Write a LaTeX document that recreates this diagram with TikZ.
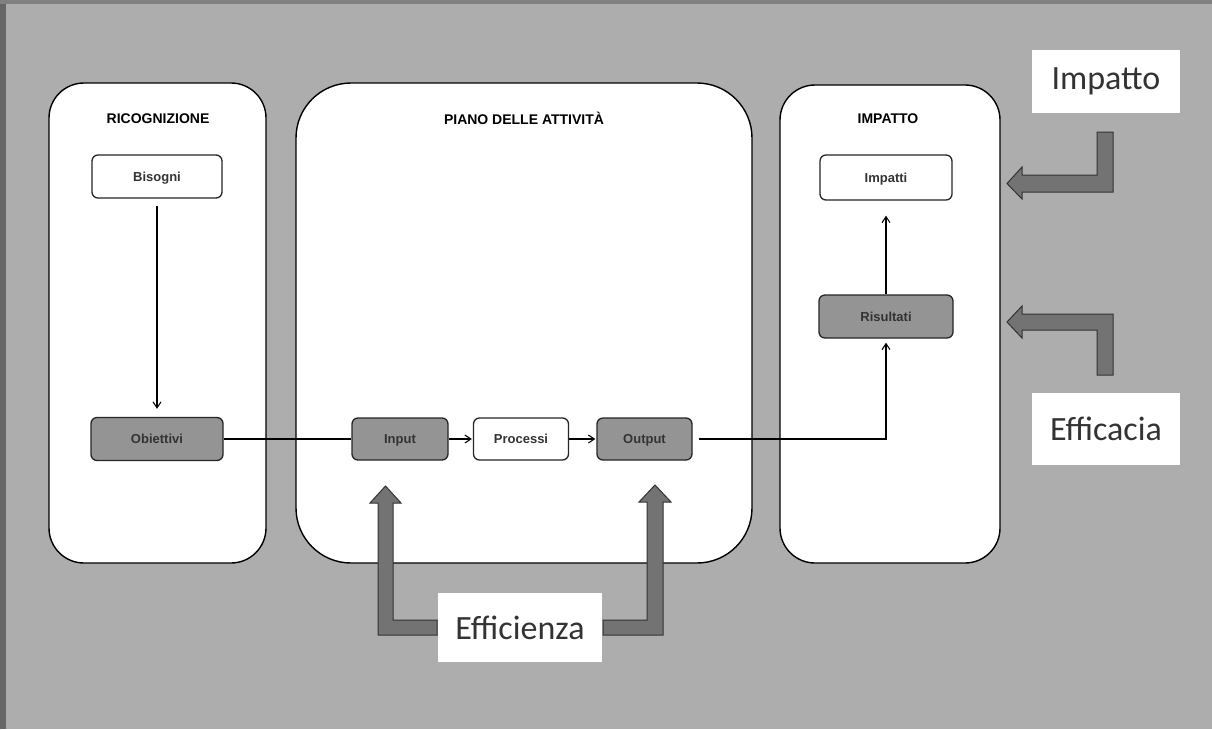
\documentclass[tikz,border=0pt]{standalone}
\usepackage{fontspec}
\setmainfont{Liberation Sans}
\newfontfamily\calib{Carlito}
\usetikzlibrary{arrows.meta}
\definecolor{bggray}{gray}{0.68}
\definecolor{boxgray}{gray}{0.58}
\definecolor{blockgray}{gray}{0.45}
\begin{document}
\begin{tikzpicture}[x=1pt,y=-1pt,
  panel/.style={draw=black,line width=1.4pt,fill=white},
  ptitle/.style={font=\fontsize{14}{16}\selectfont\bfseries,inner sep=0pt},
  wbox/.style={draw=black!85,line width=1.3pt,fill=white,rounded corners=6pt,inner sep=0pt,
     text height=9.5pt,text depth=0pt,
     font=\fontsize{13}{15}\selectfont\bfseries,text=black!80},
  gbox/.style={wbox,fill=boxgray},
  conn/.style={draw=black,line width=1.1pt},
  arr/.style={conn,-{Straight Barb[length=6pt,width=8pt,line width=1.1pt]}},
  block/.style={fill=blockgray,draw=black!80,line width=1pt},
  biglabel/.style={fill=white,inner sep=0pt,font=\calib\fontsize{34}{40}\selectfont,text=black!80}
]
% background
\fill[bggray] (0,0) rectangle (1212,729);
\useasboundingbox (0,0) rectangle (1212,729);
\fill[black!60] (0,0) rectangle (6,729);
\fill[black!50] (0,0) rectangle (1212,4);

% panels
\draw[panel,rounded corners=35pt] (49,83) rectangle (266,563);
\draw[panel,rounded corners=55pt] (296,83) rectangle (752,563);
\draw[panel,rounded corners=35pt] (780,85) rectangle (1000,563);

% titles
\node[ptitle] (t1) at (158,118.5) {RICOGNIZIONE};
\node[ptitle] (t2) at (524,118.5) {PIANO DELLE ATTIVITÀ};
\node[ptitle] (t3) at (888,119) {IMPATTO};

% boxes
\node[wbox,minimum width=130pt,minimum height=43pt] (bis) at (157,176.5) {Bisogni};
\node[gbox,minimum width=132pt,minimum height=43pt] (obi) at (157,439) {Obiettivi};
\node[gbox,minimum width=96pt,minimum height=42pt] (inp) at (400,439) {Input};
\node[wbox,minimum width=95pt,minimum height=42pt] (pro) at (521,439) {Processi};
\node[gbox,minimum width=95pt,minimum height=42pt] (out) at (644.5,439) {Output};
\node[wbox,minimum width=132pt,minimum height=45pt] (imp) at (886,177.5) {Impatti};
\node[gbox,minimum width=134pt,minimum height=43pt] (ris) at (886,316.5) {Risultati};

% connectors
\draw[arr,shorten <=7pt,shorten >=8pt] (bis.south) -- (obi.north);
\draw[conn] (obi.east) -- (inp.west);
\draw[arr,shorten >=1pt] (inp.east) -- (pro.west);
\draw[arr,shorten >=1pt] (pro.east) -- (out.west);
\draw[arr,shorten <=6pt,shorten >=4pt] (out.east) -| (ris.south);
\draw[arr,shorten >=15pt] (ris.north) -- (imp.south);

% big labels
\node[biglabel,minimum width=148pt,minimum height=63pt] (limp) at (1106,81.5) {Impatto};
\node[biglabel,minimum width=148pt,minimum height=72pt] (leff) at (1106,429) {Efficacia};
\node[biglabel,minimum width=164pt,minimum height=69pt] (lefz) at (520,627.5) {Efficienza};

% block arrows
\draw[block] (1113,132) -- (1113,192) -- (1022,192) -- (1022,199) -- (1007,183.5) -- (1022,167) -- (1022,175) -- (1097,175) -- (1097,132) -- cycle;
\draw[block] (1113,375) -- (1113,314) -- (1022,314) -- (1022,306) -- (1007,322) -- (1022,338) -- (1022,330) -- (1097,330) -- (1097,375) -- cycle;
\draw[block] (378,635) -- (378,503) -- (370,503) -- (385.5,486) -- (401,503) -- (393,503) -- (393,620) -- (437,620) -- (437,635) -- cycle;
\draw[block] (663,635) -- (663,502) -- (671,502) -- (655,485) -- (639,502) -- (647,502) -- (647,620) -- (603,620) -- (603,635) -- cycle;
\end{tikzpicture}
\end{document}
